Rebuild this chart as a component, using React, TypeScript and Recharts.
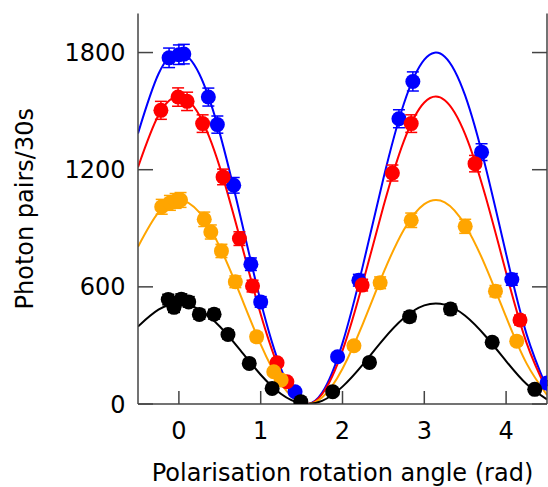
import React from 'react';
import {
  ComposedChart, Line, Scatter, ErrorBar, XAxis, YAxis, Label
} from 'recharts';

const curveX = [-0.5, -0.25, 0, 0.25, 0.5, 0.75, 1, 1.25, 1.5, 1.75, 2, 2.25, 2.5, 2.75, 3, 3.25, 3.5, 3.75, 4, 4.25, 4.5];

// fitted curves (photon pairs / 30s)
const blueCurve = [1386, 1690, 1800, 1690, 1386, 964, 525, 179, 9, 57, 312, 710, 1155, 1538, 1764, 1779, 1579, 1212, 769, 358, 80];
const redCurve = [1213, 1479, 1575, 1479, 1213, 843, 460, 157, 8, 50, 273, 622, 1011, 1346, 1544, 1556, 1381, 1061, 673, 313, 70];
const orangeCurve = [805, 981, 1045, 981, 805, 560, 305, 104, 5, 33, 181, 412, 671, 893, 1024, 1033, 916, 704, 446, 208, 46];
const blackCurve = [397, 483, 515, 483, 397, 276, 150, 51, 3, 16, 89, 203, 331, 440, 505, 509, 452, 347, 220, 102, 23];

// measured points: [angle, counts, error]
const bluePts = [
  [-0.12, 1773, 50], [0.0, 1789, 50], [0.06, 1792, 50], [0.36, 1572, 46], [0.47, 1431, 44],
  [0.67, 1120, 40], [0.88, 716, 32], [1.0, 523, 27], [1.42, 63, 10], [1.94, 242, 19],
  [2.2, 634, 30], [2.69, 1461, 46], [2.86, 1652, 49], [3.7, 1290, 43], [4.07, 638, 30], [4.5, 107, 12],
];
const redPts = [
  [-0.22, 1504, 46], [-0.01, 1572, 47], [0.1, 1550, 47], [0.29, 1436, 45], [0.54, 1163, 40],
  [0.74, 847, 35], [0.9, 604, 30], [1.2, 211, 18], [1.32, 114, 13], [2.24, 609, 30],
  [2.61, 1183, 41], [2.84, 1436, 45], [3.62, 1231, 42], [4.17, 430, 25],
];
const orangePts = [
  [-0.21, 1010, 38], [-0.11, 1030, 38], [-0.04, 1040, 38], [0.02, 1045, 38], [0.31, 946, 37],
  [0.39, 881, 36], [0.52, 784, 34], [0.69, 626, 30], [0.95, 344, 22], [1.16, 165, 15],
  [1.25, 123, 13], [2.14, 298, 20], [2.46, 621, 30], [2.84, 941, 37], [3.5, 910, 36],
  [3.87, 578, 29], [4.13, 322, 21],
];
const blackPts = [
  [-0.13, 535, 27], [-0.06, 495, 26], [0.03, 537, 27], [0.12, 523, 27], [0.25, 459, 25],
  [0.43, 460, 25], [0.6, 356, 22], [0.86, 208, 17], [1.14, 80, 11], [1.49, 12, 4],
  [1.88, 63, 10], [2.33, 213, 17], [2.82, 447, 25], [3.32, 486, 26], [3.83, 316, 21], [4.35, 75, 10],
];

const xTicks = [0, 1, 2, 3, 4];
const yTicks = [0, 600, 1200, 1800];

const FONT = '"DejaVu Sans", sans-serif';
const AXIS = '#444';

const toCurve = (ys: number[]) => curveX.map((x, i) => ({ x, y: ys[i] }));
const toPts = (pts: number[][]) => pts.map(([x, y, e]) => ({ x, y, e }));

const series = [
  { name: 'blue', color: '#0000ff', curve: blueCurve, pts: bluePts },
  { name: 'red', color: '#ff0000', curve: redCurve, pts: redPts },
  { name: 'orange', color: '#ffa500', curve: orangeCurve, pts: orangePts },
  { name: 'black', color: '#000000', curve: blackCurve, pts: blackPts },
];

const YLabel = (props: any) => {
  const vb = props.viewBox;
  const x = vb.x + 33;
  const y = vb.y + vb.height / 2;
  return (
    <text x={x} y={y} transform={`rotate(-90, ${x}, ${y})`} textAnchor="middle"
      fontFamily={FONT} fontSize={24} fill="#000">
      Photon pairs/30s
    </text>
  );
};

export default function App() {
  const tickStyle = { fontFamily: FONT, fontSize: 24, fill: '#000' };
  return (
    <div style={{ position: 'absolute', left: 0, top: 0 }}>
      <ComposedChart width={548} height={487} margin={{ top: 13.5, right: 0, bottom: 0, left: 0 }}>
        <XAxis xAxisId={0} type="number" dataKey="x" domain={[-0.5, 4.5]} ticks={xTicks}
          allowDataOverflow height={83} tick={tickStyle}
          axisLine={{ stroke: AXIS, strokeWidth: 1.5 }} tickLine={{ stroke: AXIS, strokeWidth: 1.5 }}
          tickSize={-13} tickMargin={31}>
          <Label value="Polarisation rotation angle (rad)" position="insideBottom" offset={6}
            style={{ fontFamily: FONT, fontSize: 24, fill: '#000' }} />
        </XAxis>
        <XAxis xAxisId="top" orientation="top" type="number" dataKey="x" domain={[-0.5, 4.5]}
          allowDataOverflow height={0} tick={false} tickLine={false}
          axisLine={{ stroke: AXIS, strokeWidth: 1.5 }} />
        <YAxis yAxisId={0} type="number" domain={[0, 2000]} ticks={yTicks} allowDataOverflow
          width={138} tick={tickStyle}
          axisLine={{ stroke: AXIS, strokeWidth: 1.5 }} tickLine={{ stroke: AXIS, strokeWidth: 1.5 }}
          tickSize={-15} tickMargin={27.5} label={<YLabel />} />
        <YAxis yAxisId="right" orientation="right" type="number" domain={[0, 2000]} ticks={yTicks}
          allowDataOverflow width={1} tickFormatter={() => ''}
          axisLine={{ stroke: AXIS, strokeWidth: 1.5 }} tickLine={{ stroke: AXIS, strokeWidth: 1.5 }}
          tickSize={-15} />
        {series.map((s) => (
          <Line key={`c-${s.name}`} data={toCurve(s.curve)} dataKey="y" type="natural"
            stroke={s.color} strokeWidth={2} dot={false} activeDot={false}
            isAnimationActive={false} />
        ))}
        {series.map((s) => (
          <Scatter key={`p-${s.name}`} data={toPts(s.pts)} dataKey="y" fill={s.color}
            isAnimationActive={false}
            shape={(p: any) => <circle cx={p.cx} cy={p.cy} r={7.5} fill={s.color} />}>
            <ErrorBar dataKey="e" direction="y" width={6} stroke={s.color} strokeWidth={1.5} />
          </Scatter>
        ))}
      </ComposedChart>
    </div>
  );
}
